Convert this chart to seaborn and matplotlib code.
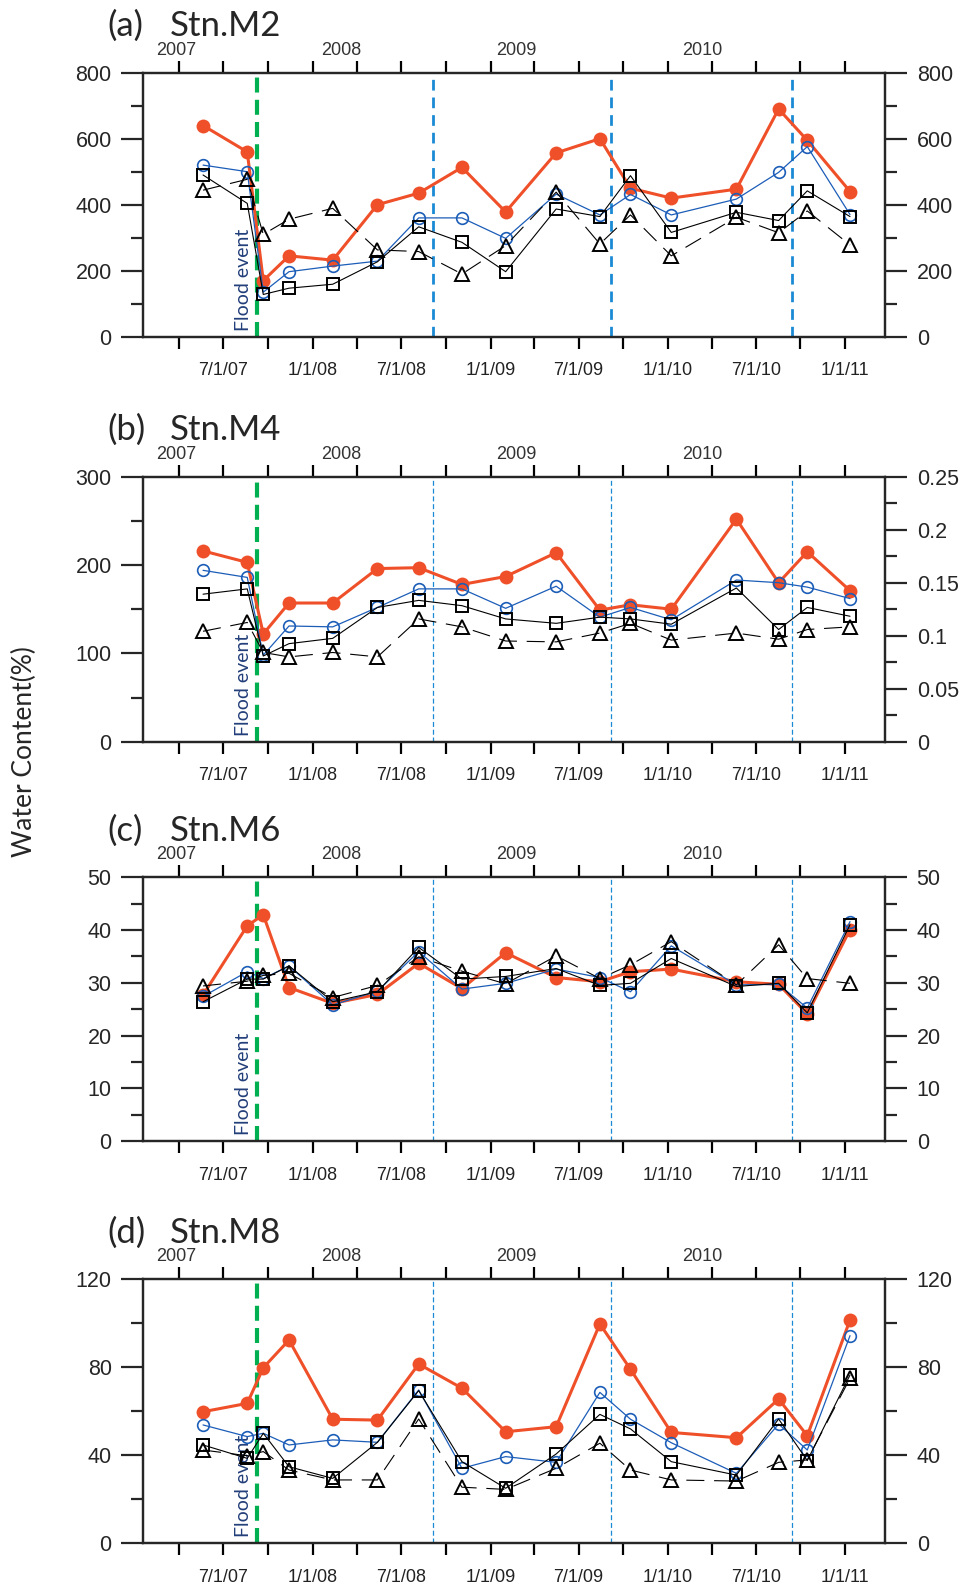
import matplotlib
matplotlib.use("Agg")
import matplotlib.pyplot as plt
import matplotlib.transforms as mtransforms
from matplotlib.ticker import MultipleLocator, FuncFormatter
import numpy as np
import pandas as pd
import seaborn as sns

# ---------------- data ----------------
sample_dates = ['2007-05-20', '2007-08-19', '2007-09-21', '2007-11-13', '2008-02-11',
                '2008-05-13', '2008-08-06', '2008-11-03', '2009-02-01', '2009-05-16',
                '2009-08-14', '2009-10-16', '2010-01-08', '2010-05-22', '2010-08-17',
                '2010-10-15', '2011-01-11']
flood_date = '2007-09-09'
season_dates = ['2008-09-05', '2009-09-06', '2010-09-14']

x_tick_dates = ['2007-04-01', '2007-07-01', '2007-10-01', '2008-01-01', '2008-04-01',
                '2008-07-01', '2008-10-01', '2009-01-01', '2009-04-01', '2009-07-01',
                '2009-10-01', '2010-01-01', '2010-04-01', '2010-07-01', '2010-10-01',
                '2011-01-01']
x_tick_labels = ['', '7/1/07', '', '1/1/08', '', '7/1/08', '', '1/1/09', '', '7/1/09',
                 '', '1/1/10', '', '7/1/10', '', '1/1/11']
year_labels = ['2007', '2008', '2009', '2010']
year_label_dates = ['2007-03-26', '2008-02-29', '2009-02-23', '2010-03-13']

panel_tags = ['(a)', '(b)', '(c)', '(d)']
stations = ['Stn.M2', 'Stn.M4', 'Stn.M6', 'Stn.M8']

m2_filled = [640, 560, 170, 245, 232, 400, 435, 513, 378, 557, 600, 450, 420, 447, 690, 595, 440]
m2_circle = [520, 500, 135, 197, 214, 229, 360, 360, 298, 432, 369, 431, 369, 417, 498, 576, 370]
m2_square = [490, 404, 128, 147, 159, 227, 333, 286, 197, 387, 364, 488, 316, 377, 352, 442, 364]
m2_triangle = [444, 477, 310, 356, 389, 263, 258, 190, 276, 438, 281, 369, 245, 362, 315, 381, 278]

m4_filled = [216, 203, 122, 157, 157, 196, 197, 178, 187, 214, 149, 155, 150, 252, 180, 215, 171]
m4_circle = [194, 186, 98, 131, 130, 152, 173, 173, 151, 176, 141, 152, 138, 183, 180, 175, 162]
m4_square = [167, 173, 97, 111, 117, 152, 160, 154, 139, 134, 141, 139, 133, 174, 127, 152, 142]
m4_triangle = [125, 135, 101, 96, 101, 96, 139, 130, 114, 113, 123, 134, 115, 123, 116, 127, 130]

m6_filled = [27.7, 40.8, 42.9, 29.1, 26.1, 27.8, 33.7, 28.9, 35.7, 31.0, 30.2, 32.1, 32.6, 30.2, 29.7, 24.1, 40.1]
m6_circle = [27.4, 32.1, 30.8, 33.2, 25.8, 28.4, 35.9, 28.8, 29.9, 32.6, 31.0, 28.3, 37.0, 29.6, 29.7, 25.2, 41.6]
m6_square = [26.4, 30.7, 30.7, 33.2, 26.4, 28.3, 36.7, 30.7, 31.2, 32.7, 29.5, 29.9, 34.6, 29.3, 29.9, 24.3, 41.0]
m6_triangle = [29.4, 30.3, 31.4, 31.8, 27.2, 29.5, 34.9, 32.2, 29.8, 35.1, 30.8, 33.4, 37.8, 29.6, 37.2, 30.8, 29.9]

m8_filled = [59.8, 63.6, 79.8, 92.4, 56.4, 56.0, 81.5, 70.5, 50.7, 53.0, 99.7, 79.1, 50.4, 48.0, 65.6, 48.9, 101.5]
m8_circle = [53.8, 48.5, 50.0, 44.7, 47.0, 45.9, 69.7, 34.1, 39.4, 36.8, 68.6, 56.4, 45.7, 31.8, 54.2, 42.4, 94.4]
m8_square = [44.7, 38.6, 50.0, 34.8, 29.5, 45.9, 69.4, 37.1, 25.0, 40.6, 58.6, 52.0, 37.1, 31.0, 56.5, 37.6, 76.5]
m8_triangle = [42.4, 39.8, 41.7, 33.3, 28.8, 28.8, 56.5, 25.5, 24.5, 34.1, 45.5, 33.3, 28.8, 28.3, 36.8, 37.9, 75.0]

left_ymax = [800, 300, 50, 120]
left_major = [200, 100, 10, 40]
left_minor = [100, 50, 5, 20]
right_ymax = [800, 0.25, 50, 120]
right_major = [200, 0.05, 10, 40]
right_minor = [100, 0.025, 5, 20]

series = [
    (m2_filled, m2_circle, m2_square, m2_triangle),
    (m4_filled, m4_circle, m4_square, m4_triangle),
    (m6_filled, m6_circle, m6_square, m6_triangle),
    (m8_filled, m8_circle, m8_square, m8_triangle),
]

# ---------------- style ----------------
sns.set_style("ticks")
plt.rcParams['font.family'] = ['Liberation Sans', 'DejaVu Sans']
plt.rcParams['lines.scale_dashes'] = False

RED = '#EF5029'
BLUE = '#1C5DB8'
GREEN = '#00B050'
SEASON = '#1A8AD4'
NAVY = '#233F7A'
TITLE_FONT = ['Lato', 'DejaVu Sans']

W_PX, H_PX = 967, 1589
fig = plt.figure(figsize=(W_PX / 100, H_PX / 100), dpi=100)

left_px, right_px = 143.3, 885.0
top_px = [72.7, 476.7, 877.3, 1279.3]
bot_px = [336.7, 741.7, 1141.0, 1543.3]

dates = pd.to_datetime(sample_dates)
xlim = (pd.Timestamp('2007-01-17'), pd.Timestamp('2011-03-24'))

for i in range(4):
    ax = fig.add_axes([left_px / W_PX, 1 - bot_px[i] / H_PX,
                       (right_px - left_px) / W_PX, (bot_px[i] - top_px[i]) / H_PX])
    filled, circle, square, triangle = series[i]

    # vertical reference lines
    ax.axvline(pd.Timestamp(flood_date), color=GREEN, lw=3.0,
               linestyle=(0, (10.8, 5.2)), zorder=1.5)
    for d in season_dates:
        if i == 0:
            ax.axvline(pd.Timestamp(d), color=SEASON, lw=2.0,
                       linestyle=(0, (7.7, 5.0)), zorder=1.5)
        else:
            ax.axvline(pd.Timestamp(d), color=SEASON, lw=0.9,
                       linestyle=(0, (3.6, 2.0)), zorder=1.5)

    sns.lineplot(x=dates, y=filled, ax=ax, color=RED, lw=2.2, marker='o',
                 markersize=10.0, markerfacecolor=RED, markeredgecolor=RED,
                 markeredgewidth=0, errorbar=None, legend=False, zorder=3)
    sns.lineplot(x=dates, y=circle, ax=ax, color=BLUE, lw=0.9, marker='o',
                 markersize=8.4, markerfacecolor='none', markeredgecolor=BLUE,
                 markeredgewidth=1.2, errorbar=None, legend=False, zorder=4)
    sns.lineplot(x=dates, y=square, ax=ax, color='black', lw=0.8, marker='s',
                 markersize=8.4, markerfacecolor='none', markeredgecolor='black',
                 markeredgewidth=1.4, errorbar=None, legend=False, zorder=5)
    sns.lineplot(x=dates, y=triangle, ax=ax, color='black', lw=0.8, marker='^',
                 markersize=10.0, markerfacecolor='none', markeredgecolor='black',
                 markeredgewidth=1.4, linestyle=(0, (13, 7)), errorbar=None,
                 legend=False, zorder=6)

    ax.set_xlim(*xlim)
    ax.set_ylim(0, left_ymax[i])
    ax.set_xlabel('')
    ax.set_ylabel('')
    ax.set_xticks(pd.to_datetime(x_tick_dates))
    ax.set_xticklabels(x_tick_labels)
    ax.yaxis.set_major_locator(MultipleLocator(left_major[i]))
    ax.yaxis.set_minor_locator(MultipleLocator(left_minor[i]))
    ax.yaxis.set_major_formatter(FuncFormatter(lambda v, p: f'{v:g}'))

    for s in ax.spines.values():
        s.set_visible(True)
        s.set_linewidth(1.6)
    ax.tick_params(axis='x', which='major', direction='out', length=8.4, width=1.6,
                   top=True, bottom=True, labeltop=False, labelbottom=True,
                   labelsize=13, pad=10, colors='black')
    ax.tick_params(axis='y', which='major', direction='out', length=15.8, width=1.6,
                   left=True, labelsize=15.5, pad=7)
    ax.tick_params(axis='y', which='minor', direction='out', length=8.6, width=1.6,
                   left=True)
    for lab in ax.get_xticklabels():
        lab.set_color('#222222')

    ax2 = ax.twinx()
    ax2.set_ylim(0, right_ymax[i])
    ax2.yaxis.set_major_locator(MultipleLocator(right_major[i]))
    ax2.yaxis.set_minor_locator(MultipleLocator(right_minor[i]))
    ax2.yaxis.set_major_formatter(FuncFormatter(lambda v, p: f'{v:g}'))
    for s in ax2.spines.values():
        s.set_linewidth(1.6)
    ax2.tick_params(axis='y', which='major', direction='out', length=15.8, width=1.6,
                    right=True, labelsize=15.5, pad=7)
    ax2.tick_params(axis='y', which='minor', direction='out', length=8.6, width=1.6,
                    right=True)

    # year labels above the top axis
    for yl, yd in zip(year_labels, year_label_dates):
        ax.annotate(yl, xy=(pd.Timestamp(yd), 1), xycoords=('data', 'axes fraction'),
                    xytext=(0, 16.3), textcoords='offset points', ha='center',
                    va='center', fontsize=13, color='#333333')

    # Flood event label
    trans = mtransforms.blended_transform_factory(ax.transData, ax.transAxes)
    trans = mtransforms.offset_copy(trans, fig=fig, x=-10.0, y=0, units='points')
    ax.text(pd.Timestamp(flood_date), 0.022, 'Flood event', transform=trans,
            rotation=90, ha='center', va='bottom', fontsize=14, color=NAVY,
            family=TITLE_FONT)

    # panel titles
    base_y = 1 - (top_px[i] - 36.7) / H_PX
    fig.text(107.5 / W_PX, base_y, panel_tags[i], fontsize=25, family=TITLE_FONT,
             ha='left', va='baseline')
    fig.text(170.0 / W_PX, base_y, stations[i], fontsize=25, family=TITLE_FONT,
             ha='left', va='baseline')

fig.text(24 / W_PX, 1 - 752 / H_PX, 'Water Content(%)', rotation=90, ha='center',
         va='center', fontsize=19, family=TITLE_FONT)

fig.savefig('out.png', dpi=100)
